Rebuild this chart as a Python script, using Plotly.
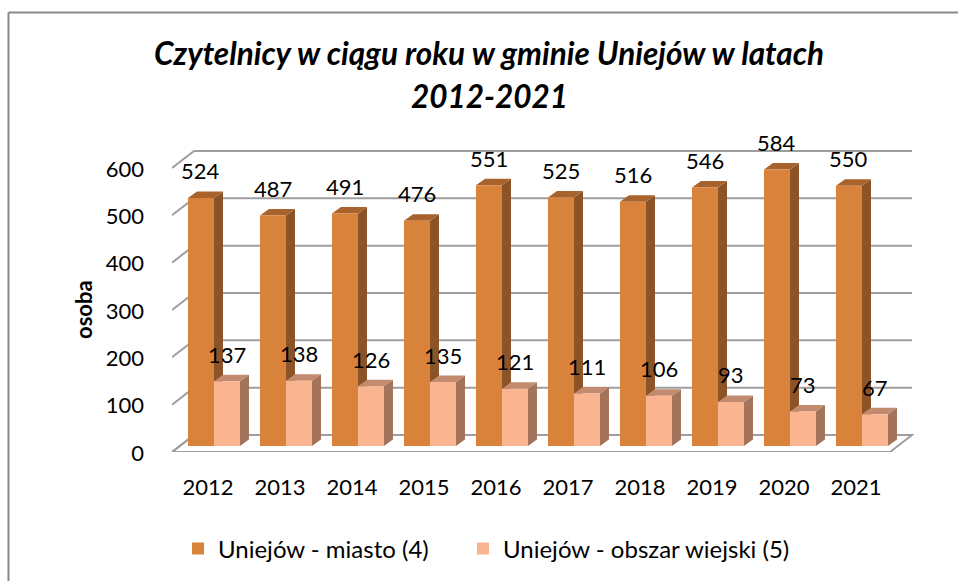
import plotly.graph_objects as go

years = ["2012", "2013", "2014", "2015", "2016", "2017", "2018", "2019", "2020", "2021"]
miasto = [524, 487, 491, 476, 551, 525, 516, 546, 584, 550]
wiejski = [137, 138, 126, 135, 121, 111, 106, 93, 73, 67]
y_ticks = [0, 100, 200, 300, 400, 500, 600]

series = [
    dict(name="Uniejów - miasto (4)", values=miasto, front="#D9823B", side="#8C5327", top="#A8632C",
         offset=-0.278, legend="legend"),
    dict(name="Uniejów - obszar wiejski (5)", values=wiejski, front="#F9B490", side="#A3745A", top="#C28A6E",
         offset=0.083, legend="legend2"),
]

W, H = 958, 581
ML, MT = 172, 149
PW, PH = 742, 303
MR = W - ML - PW
MB = H - MT - PH
PX_CAT = 72.0
PX_VAL = 284.0 / 600.0
X0 = -0.5
XR = [X0, X0 + PW / PX_CAT]
Y0 = -6 / PX_VAL
YR = [Y0, Y0 + PH / PX_VAL]
BAR_W = 0.361


def cx(px):
    return px / PX_CAT


def cy(px):
    return px / PX_VAL


def paper_x(px):
    return (px - ML) / PW


def paper_y(py):
    return (MT + PH - py) / PH


DEPTH = (cx(22), cy(17))
BDEPTH = (cx(9), cy(6.5))

idx = list(range(len(years)))
fig = go.Figure()
shapes = []
annotations = []

# floor
fl = (X0, Y0)
fr = (X0 + cx(718), Y0)
br = (fr[0] + DEPTH[0], Y0 + DEPTH[1])
bl = (X0 + DEPTH[0], Y0 + DEPTH[1])
shapes.append(dict(type="path", xref="x", yref="y", layer="below",
                   path=f"M{fl[0]},{fl[1]} L{fr[0]},{fr[1]} L{br[0]},{br[1]} L{bl[0]},{bl[1]} Z",
                   line=dict(color="#A0A0A0", width=2), fillcolor="white"))
# gridlines on the left wall and back wall
for v in y_ticks:
    shapes.append(dict(type="path", xref="x", yref="y", layer="below",
                       path=f"M{X0},{Y0 + v} L{bl[0]},{Y0 + v + DEPTH[1]} L{br[0]},{Y0 + v + DEPTH[1]}",
                       line=dict(color="#9E9E9E", width=2)))

for s in series:
    fig.add_trace(go.Bar(x=idx, y=s["values"], name=s["name"], offset=s["offset"], width=BAR_W,
                         legend=s["legend"],
                         marker=dict(color=s["front"], line=dict(width=0)), hoverinfo="skip"))
    for i, v in zip(idx, s["values"]):
        x0 = i + s["offset"]
        x1 = x0 + BAR_W
        dx, dy = BDEPTH
        shapes.append(dict(type="path", xref="x", yref="y", layer="below",
                           path=f"M{x1},0 L{x1},{v} L{x1 + dx},{v + dy} L{x1 + dx},{dy} Z",
                           line=dict(width=0), fillcolor=s["side"]))
        shapes.append(dict(type="path", xref="x", yref="y", layer="below",
                           path=f"M{x0},{v} L{x1},{v} L{x1 + dx},{v + dy} L{x0 + dx},{v + dy} Z",
                           line=dict(width=0), fillcolor=s["top"]))
        annotations.append(dict(x=x0 + BAR_W / 2, y=v, xref="x", yref="y", text=str(v),
                                showarrow=False, yanchor="middle", yshift=27,
                                font=dict(family="Lato", size=22, color="black")))

# title lines
annotations.append(dict(text="<b><i>Czytelnicy w ciągu roku w gminie Uniejów w latach</i></b>",
                        x=paper_x(489), y=paper_y(53), xref="paper", yref="paper", showarrow=False,
                        xanchor="center", yanchor="middle", font=dict(family="Lato", size=31.5, color="black")))
annotations.append(dict(text="<b><i>2012-2021</i></b>",
                        x=paper_x(489), y=paper_y(96), xref="paper", yref="paper", showarrow=False,
                        xanchor="center", yanchor="middle", font=dict(family="Lato", size=31.5, color="black")))
annotations.append(dict(text="<b>osoba</b>", textangle=-90,
                        x=paper_x(83), y=paper_y(310), xref="paper", yref="paper", showarrow=False,
                        xanchor="center", yanchor="middle", font=dict(family="Lato", size=22, color="black")))

# chart border (top and left edges, the others are outside the picture)
shapes.append(dict(type="line", xref="paper", yref="paper",
                   x0=paper_x(8.5), x1=paper_x(1000), y0=paper_y(12.5), y1=paper_y(12.5),
                   line=dict(color="#888888", width=2), layer="above"))
shapes.append(dict(type="line", xref="paper", yref="paper",
                   x0=paper_x(8.5), x1=paper_x(8.5), y0=paper_y(12.5), y1=paper_y(640),
                   line=dict(color="#888888", width=2), layer="above"))

legend_font = dict(family="Lato", size=24, color="black")
fig.update_layout(
    width=W, height=H,
    margin=dict(l=ML, r=MR, t=MT, b=MB, autoexpand=False),
    paper_bgcolor="white", plot_bgcolor="white",
    barmode="overlay",
    shapes=shapes, annotations=annotations,
    showlegend=True,
    legend=dict(orientation="h", x=paper_x(178), y=paper_y(549), xanchor="left", yanchor="middle",
                font=legend_font, itemwidth=30, bgcolor="rgba(0,0,0,0)"),
    legend2=dict(orientation="h", x=paper_x(463), y=paper_y(549), xanchor="left", yanchor="middle",
                 font=legend_font, itemwidth=30, bgcolor="rgba(0,0,0,0)"),
    xaxis=dict(range=XR, tickvals=idx, ticktext=years, showgrid=False, zeroline=False,
               showline=False, ticks="", tickfont=dict(family="Lato", size=22, color="black"),
               ticklabelstandoff=20, fixedrange=True),
    yaxis=dict(range=YR, tickvals=y_ticks, showgrid=False, zeroline=False, showline=False, ticks="",
               tickfont=dict(family="Lato", size=22, color="black"), ticklabelshift=7,
               ticklabelstandoff=27, fixedrange=True),
)

fig.write_html(
    "out.html",
    config={"displayModeBar": False},
    post_script=(
        "document.documentElement.style.overflow='hidden';"
        "document.body.style.margin='0';document.body.style.overflow='hidden';"
    ),
)
